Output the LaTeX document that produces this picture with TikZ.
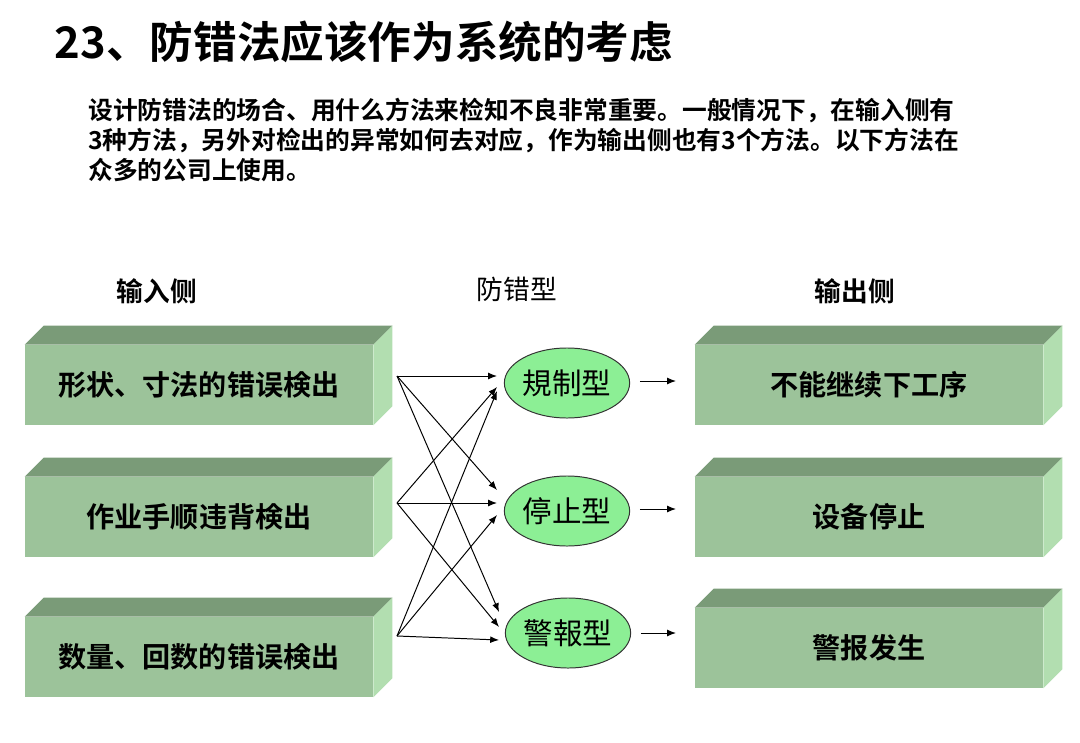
\documentclass[tikz,border=0pt]{standalone}
\usepackage{fontspec}
\setmainfont{Noto Sans CJK SC}[BoldFont={Noto Sans CJK SC Bold}]
\usepackage{tikz}
\usetikzlibrary{arrows.meta,positioning,calc,shapes.geometric}
\usepackage{xcolor}
\definecolor{slabfront}{HTML}{9CC39A}
\definecolor{slabtop}{HTML}{7A9B78}
\definecolor{slabside}{HTML}{B2DEB0}
\definecolor{kindfill}{HTML}{8CEF95}
\tikzset{
  slab/.style={fill=slabfront, minimum width=8.7cm, minimum height=2cm, inner sep=0pt, font=\fontsize{20}{24}\selectfont\bfseries},
  kind/.style={ellipse, draw=black!80, fill=kindfill, line width=0.7pt, minimum width=3cm, minimum height=1.75cm, inner sep=0pt, font=\fontsize{21}{25}\selectfont},
  header/.style={font=\fontsize{19}{23}\selectfont\bfseries},
  arrow/.style={-{Latex[length=2.2mm,width=1.7mm]}, line width=0.7pt}
}
% top and right faces of a slab node
\newcommand{\slabfaces}[1]{
  \fill[slabtop] (#1.north west) -- ++(19,-19) -- ($(#1.north east)+(19,-19)$) -- (#1.north east) -- cycle;
  \fill[slabside] (#1.north east) -- ++(19,-19) -- ($(#1.south east)+(19,-19)$) -- (#1.south east) -- cycle;
}

\begin{document}
\begin{tikzpicture}[x=0.025cm, y=-0.025cm]
\useasboundingbox (0,0) rectangle (1080,743);

\node[anchor=west, font=\fontsize{31}{36}\selectfont\bfseries] (title) at (50,42) {23、防错法应该作为系统的考虑};
\node[anchor=north west, align=left, inner sep=0pt, font=\fontsize{17.6}{21.3}\selectfont\bfseries] (intro) at (88,98)
  {设计防错法的场合、用什么方法来检知不良非常重要。一般情况下，在输入侧有\\
   3种方法，另外对检出的异常如何去对应，作为输出侧也有3个方法。以下方法在\\
   众多的公司上使用。};

\node[header] (inlabel) at (157,291) {输入侧};
\node[font=\fontsize{19}{23}\selectfont] (kindlabel) at (517,289) {防错型};
\node[header] (outlabel) at (855,291) {输出侧};

% input side
\node[slab] (shape) at (199,385) {形状、寸法的错误検出};
\node[slab] (order) at (199,517) {作业手顺违背検出};
\node[slab] (count) at (199,657) {数量、回数的错误検出};
\slabfaces{shape}
\slabfaces{order}
\slabfaces{count}

% output side
\node[slab] (halt) at (869,385) {不能继续下工序};
\node[slab] (machine) at (869,517) {设备停止};
\node[slab] (alarm) at (869,648) {警报发生};
\slabfaces{halt}
\slabfaces{machine}
\slabfaces{alarm}

% poka-yoke types
\node[kind] (rule) at (567,383) {規制型};
\node[kind] (stop) at (567,511) {停止型};
\node[kind] (warn) at (568,633) {警報型};

% fan of arrows
\coordinate (src1) at (397,376);
\coordinate (src2) at (397,503);
\coordinate (src3) at (397,636);
\coordinate (rule1) at (497,376);
\coordinate (rule2) at (497,387);
\coordinate (rule3) at (497,391);
\coordinate (stop1) at (497,490);
\coordinate (stop2) at (497,503);
\coordinate (stop3) at (497,515);
\coordinate (warn1) at (499,612);
\coordinate (warn2) at (499,627);
\coordinate (warn3) at (499,640);
\draw[arrow] (src1) -- (rule1);
\draw[arrow] (src1) -- (stop1);
\draw[arrow] (src1) -- (warn1);
\draw[arrow] (src2) -- (rule2);
\draw[arrow] (src2) -- (stop2);
\draw[arrow] (src2) -- (warn2);
\draw[arrow] (src3) -- (rule3);
\draw[arrow] (src3) -- (stop3);
\draw[arrow] (src3) -- (warn3);

% to the output side
\coordinate (halt in) at (676,381);
\coordinate (machine in) at (676,509);
\coordinate (alarm in) at (676,633);
\draw[arrow] ([xshift=7]rule.east |- halt in) -- (halt in);
\draw[arrow] ([xshift=7]stop.east |- machine in) -- (machine in);
\draw[arrow] ([xshift=7]warn.east |- alarm in) -- (alarm in);
\end{tikzpicture}
\end{document}
